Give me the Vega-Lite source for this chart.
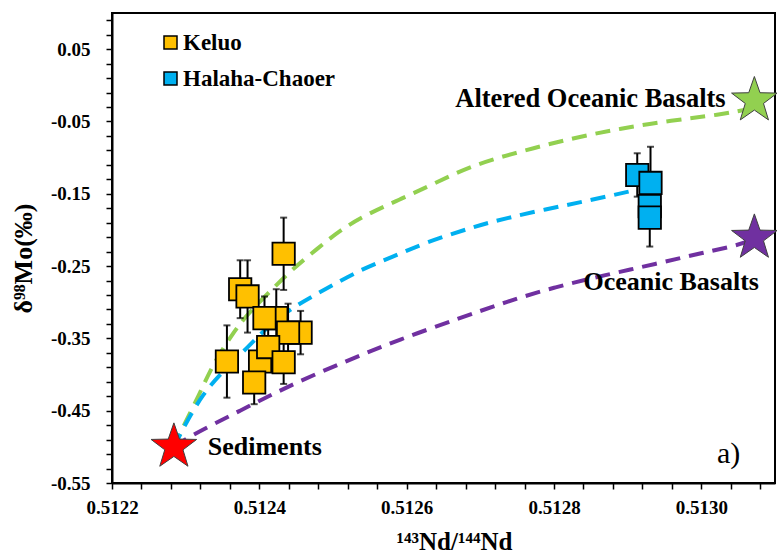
{
  "$schema": "https://vega.github.io/schema/vega-lite/v6.json",
  "width": 663,
  "height": 470,
  "autosize": "none",
  "padding": {"left": 112, "top": 13, "right": 2, "bottom": 71},
  "background": "white",
  "config": {
    "view": {"stroke": "black", "strokeWidth": 2},
    "font": "Liberation Serif",
    "axis": {
      "domainColor": "black", "domainWidth": 2,
      "tickColor": "black", "tickWidth": 1.5, "tickSize": 6,
      "labelFont": "Liberation Serif", "labelFontWeight": "bold", "labelFontSize": 19, "labelColor": "black",
      "titleFont": "Liberation Serif", "titleFontWeight": "bold", "titleColor": "black",
      "grid": false
    }
  },
  "datasets": {
    "samples": [
      {"group": "Keluo", "x": 0.512374, "y": -0.282, "err": 0.04},
      {"group": "Keluo", "x": 0.512384, "y": -0.292, "err": 0.05},
      {"group": "Keluo", "x": 0.512433, "y": -0.233, "err": 0.05},
      {"group": "Keluo", "x": 0.512423, "y": -0.322, "err": 0.04},
      {"group": "Keluo", "x": 0.512407, "y": -0.322, "err": 0.03},
      {"group": "Keluo", "x": 0.512456, "y": -0.342, "err": 0.03},
      {"group": "Keluo", "x": 0.512439, "y": -0.342, "err": 0.04},
      {"group": "Keluo", "x": 0.512401, "y": -0.382, "err": 0.03},
      {"group": "Keluo", "x": 0.512412, "y": -0.362, "err": 0.03},
      {"group": "Keluo", "x": 0.512433, "y": -0.383, "err": 0.03},
      {"group": "Keluo", "x": 0.512356, "y": -0.382, "err": 0.05},
      {"group": "Keluo", "x": 0.512393, "y": -0.411, "err": 0.03},
      {"group": "Halaha-Chaoer", "x": 0.512913, "y": -0.124, "err": 0.03},
      {"group": "Halaha-Chaoer", "x": 0.512931, "y": -0.135, "err": 0.05},
      {"group": "Halaha-Chaoer", "x": 0.51293, "y": -0.167, "err": 0.03},
      {"group": "Halaha-Chaoer", "x": 0.51293, "y": -0.183, "err": 0.04}
    ],
    "curves": [
      {"curve": "AOB", "x": 0.512284, "y": -0.5007},
      {"curve": "AOB", "x": 0.512292, "y": -0.4815},
      {"curve": "AOB", "x": 0.512319, "y": -0.4267},
      {"curve": "AOB", "x": 0.512337, "y": -0.3856},
      {"curve": "AOB", "x": 0.512363, "y": -0.3445},
      {"curve": "AOB", "x": 0.512383, "y": -0.3171},
      {"curve": "AOB", "x": 0.512418, "y": -0.2815},
      {"curve": "AOB", "x": 0.512445, "y": -0.2541},
      {"curve": "AOB", "x": 0.512478, "y": -0.2267},
      {"curve": "AOB", "x": 0.512509, "y": -0.2007},
      {"curve": "AOB", "x": 0.512545, "y": -0.1788},
      {"curve": "AOB", "x": 0.51259, "y": -0.1582},
      {"curve": "AOB", "x": 0.512634, "y": -0.1377},
      {"curve": "AOB", "x": 0.512689, "y": -0.1103},
      {"curve": "AOB", "x": 0.512756, "y": -0.0911},
      {"curve": "AOB", "x": 0.512824, "y": -0.0733},
      {"curve": "AOB", "x": 0.512891, "y": -0.0596},
      {"curve": "AOB", "x": 0.512959, "y": -0.0486},
      {"curve": "AOB", "x": 0.513027, "y": -0.0405},
      {"curve": "AOB", "x": 0.51306, "y": -0.0336},
      {"curve": "MIX", "x": 0.512284, "y": -0.5007},
      {"curve": "MIX", "x": 0.512297, "y": -0.4733},
      {"curve": "MIX", "x": 0.512323, "y": -0.4267},
      {"curve": "MIX", "x": 0.512351, "y": -0.3952},
      {"curve": "MIX", "x": 0.512383, "y": -0.3637},
      {"curve": "MIX", "x": 0.512414, "y": -0.3308},
      {"curve": "MIX", "x": 0.512451, "y": -0.3034},
      {"curve": "MIX", "x": 0.512491, "y": -0.2815},
      {"curve": "MIX", "x": 0.512536, "y": -0.2555},
      {"curve": "MIX", "x": 0.51258, "y": -0.2377},
      {"curve": "MIX", "x": 0.512626, "y": -0.2171},
      {"curve": "MIX", "x": 0.512689, "y": -0.1966},
      {"curve": "MIX", "x": 0.512712, "y": -0.1897},
      {"curve": "MIX", "x": 0.512779, "y": -0.1733},
      {"curve": "MIX", "x": 0.512847, "y": -0.1596},
      {"curve": "MIX", "x": 0.512912, "y": -0.1445},
      {"curve": "OB", "x": 0.512284, "y": -0.5007},
      {"curve": "OB", "x": 0.512302, "y": -0.487},
      {"curve": "OB", "x": 0.512374, "y": -0.45},
      {"curve": "OB", "x": 0.512445, "y": -0.413},
      {"curve": "OB", "x": 0.512518, "y": -0.3815},
      {"curve": "OB", "x": 0.51259, "y": -0.3514},
      {"curve": "OB", "x": 0.512671, "y": -0.3226},
      {"curve": "OB", "x": 0.512735, "y": -0.2993},
      {"curve": "OB", "x": 0.512802, "y": -0.2788},
      {"curve": "OB", "x": 0.51287, "y": -0.2623},
      {"curve": "OB", "x": 0.512937, "y": -0.2473},
      {"curve": "OB", "x": 0.513005, "y": -0.2308},
      {"curve": "OB", "x": 0.51305, "y": -0.2212},
      {"curve": "OB", "x": 0.513066, "y": -0.2144}
    ],
    "members": [
      {"name": "Sediments", "x": 0.512284, "y": -0.5},
      {"name": "Altered Oceanic Basalts", "x": 0.513072, "y": -0.021},
      {"name": "Oceanic Basalts", "x": 0.513072, "y": -0.211}
    ]
  },
  "encoding": {
    "x": {
      "field": "x", "type": "quantitative",
      "scale": {"domain": [0.5122, 0.5131], "nice": false, "zero": false},
      "axis": {
        "title": "¹⁴³Nd/¹⁴⁴Nd", "titleFontSize": 25,
        "titleX": 342, "titleY": 66, "titleAlign": "center", "titleBaseline": "alphabetic",
        "values": [0.5122, 0.51224, 0.51228, 0.51232, 0.51236, 0.5124, 0.51244, 0.51248, 0.51252, 0.51256, 0.5126, 0.51264, 0.51268, 0.51272, 0.51276, 0.5128, 0.51284, 0.51288, 0.51292, 0.51296, 0.513, 0.51304, 0.51308],
        "labelExpr": "abs(datum.value*5000 - round(datum.value*5000)) < 0.001 ? format(datum.value, '.4f') : ''",
        "labelPadding": 9, "labelFlush": false, "labelOverlap": false
      }
    },
    "y": {
      "field": "y", "type": "quantitative",
      "scale": {"domain": [-0.55, 0.1], "nice": false, "zero": false},
      "axis": {
        "title": "δ⁹⁸Mo(‰)", "titleFontSize": 26,
        "titleX": -89, "titleY": 245, "titleAlign": "center", "titleBaseline": "middle", "titleAngle": -90,
        "values": [-0.55, -0.53, -0.51, -0.49, -0.47, -0.45, -0.43, -0.41, -0.39, -0.37, -0.35, -0.33, -0.31, -0.29, -0.27, -0.25, -0.23, -0.21, -0.19, -0.17, -0.15, -0.13, -0.11, -0.09, -0.07, -0.05, -0.03, -0.01, 0.01, 0.03, 0.05, 0.07, 0.09],
        "labelExpr": "abs((datum.value+0.55)*10 - round((datum.value+0.55)*10)) < 0.001 ? replace(format(datum.value, '.2f'), '\u2212', '-') : ''",
        "labelPadding": 16, "labelFlush": false, "labelOverlap": false
      }
    }
  },
  "layer": [
    {
      "data": {"name": "curves"},
      "mark": {"type": "line", "strokeWidth": 4, "strokeDash": [15, 9], "interpolate": "basis"},
      "encoding": {
        "color": {"field": "curve", "type": "nominal",
          "scale": {"domain": ["AOB", "MIX", "OB"], "range": ["#92D050", "#00B0F0", "#7030A0"]},
          "legend": null}
      }
    },
    {
      "data": {"name": "samples"},
      "mark": {"type": "errorbar", "ticks": {"size": 7, "thickness": 2, "color": "black"}, "rule": {"strokeWidth": 2, "color": "black"}},
      "encoding": {"yError": {"field": "err"}}
    },
    {
      "data": {"name": "samples"},
      "mark": {"type": "square", "size": 500, "filled": true, "stroke": "black", "strokeWidth": 1.8, "opacity": 1},
      "encoding": {
        "color": {"field": "group", "type": "nominal",
          "scale": {"domain": ["Keluo", "Halaha-Chaoer"], "range": ["#FFC000", "#00B0F0"]},
          "legend": {
            "title": null, "orient": "none", "legendX": 47, "legendY": 18, "padding": 0,
            "symbolType": "square", "symbolSize": 169, "symbolStrokeColor": "black", "symbolStrokeWidth": 1.5,
            "symbolOpacity": 1,
            "labelFont": "Liberation Serif", "labelFontWeight": "bold", "labelFontSize": 23, "labelColor": "black",
            "labelOffset": 1, "rowPadding": 12
          }}
      }
    },
    {
      "data": {"name": "members"},
      "mark": {"type": "point", "filled": true, "size": 2300, "opacity": 1, "stroke": "#404040", "strokeWidth": 1,
        "shape": "M0,-1L0.235,-0.324L0.951,-0.309L0.38,0.124L0.588,0.809L0,0.4L-0.588,0.809L-0.38,0.124L-0.951,-0.309L-0.235,-0.324Z"},
      "encoding": {
        "color": {"field": "name", "type": "nominal",
          "scale": {"domain": ["Sediments", "Altered Oceanic Basalts", "Oceanic Basalts"], "range": ["#FF0000", "#92D050", "#7030A0"]},
          "legend": null}
      }
    },
    {
      "data": {"values": [
        {"label": "Sediments", "x": 0.51233, "y": -0.5116},
        {"label": "Oceanic Basalts", "x": 0.51284, "y": -0.2833}
      ]},
      "mark": {"type": "text", "align": "left", "baseline": "alphabetic", "font": "Liberation Serif", "fontWeight": "bold", "fontSize": 26, "color": "black"},
      "encoding": {"text": {"field": "label"}}
    },
    {
      "data": {"values": [
        {"label": "Altered Oceanic Basalts", "x": 0.513033, "y": -0.0295}
      ]},
      "mark": {"type": "text", "align": "right", "baseline": "alphabetic", "font": "Liberation Serif", "fontWeight": "bold", "fontSize": 26.5, "color": "black"},
      "encoding": {"text": {"field": "label"}}
    },
    {
      "data": {"values": [
        {"label": "a)", "x": 0.513037, "y": -0.522}
      ]},
      "mark": {"type": "text", "align": "center", "baseline": "alphabetic", "font": "Liberation Serif", "fontWeight": "normal", "fontSize": 30, "color": "black"},
      "encoding": {"text": {"field": "label"}}
    }
  ],
  "resolve": {"scale": {"color": "independent"}}
}
